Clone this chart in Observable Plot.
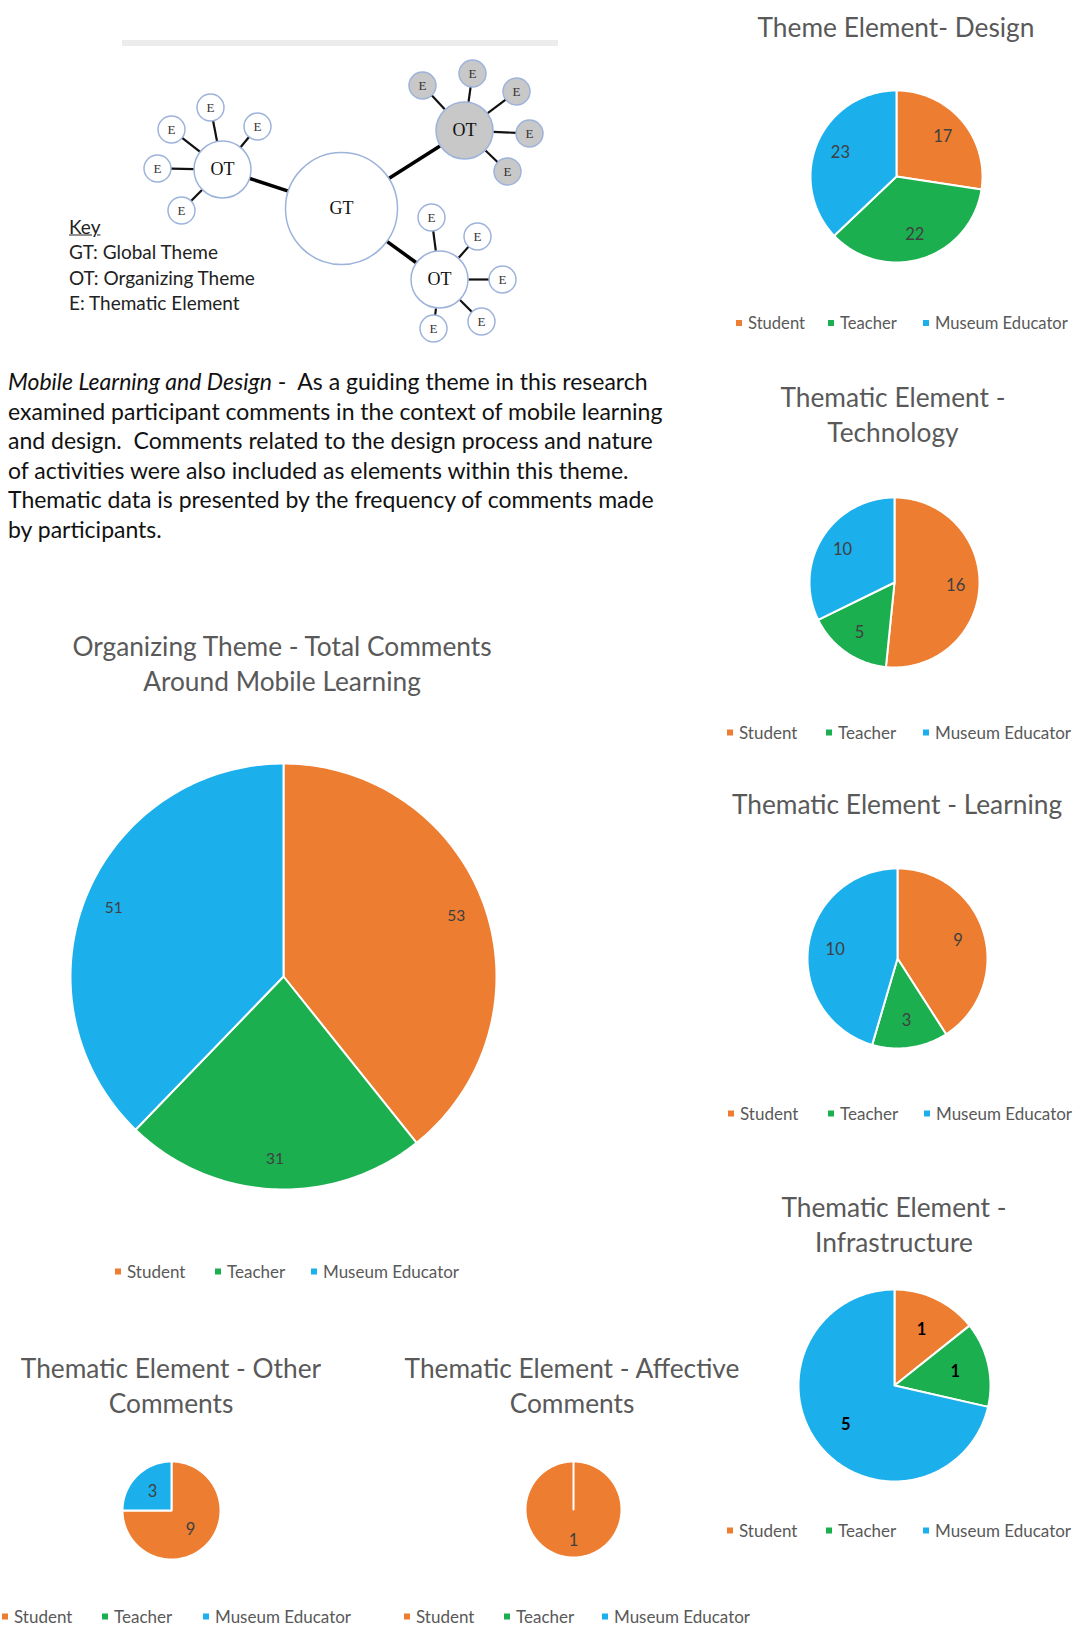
<!DOCTYPE html>
<html>
<head>
<meta charset="utf-8">
<script src="https://cdn.jsdelivr.net/npm/d3@7"></script>
<script src="https://cdn.jsdelivr.net/npm/@observablehq/plot@0.6"></script>
<style>
  html, body { margin: 0; padding: 0; background: #fff; }
  #page { position: relative; width: 1075px; height: 1625px; overflow: hidden; background: #fff; font-family: Lato, "Open Sans", sans-serif; }
  .title { position: absolute; transform: translate(-50%, -50%); text-align: center; white-space: nowrap; color: #595959; font-size: 26.3px; line-height: 35px; }
  .legend { position: absolute; display: flex; align-items: center; white-space: nowrap; color: #595959; transform: translateY(-50%); }
  .legend .item { display: flex; align-items: center; }
  .legend .sw { width: 6px; height: 6px; margin-right: 6px; }
  .para { position: absolute; left: 8px; top: 367px; font-size: 23px; line-height: 29.6px; color: #111; white-space: nowrap; }
  .key { position: absolute; left: 69px; font-size: 19px; color: #222; transform: translateY(-50%); white-space: nowrap; }
</style>
</head>
<body>
<div id="page"></div>
<script>
// ---------- data ----------
const categories = ["Student", "Teacher", "Museum Educator"];
const designValues = [17, 22, 23];
const technologyValues = [16, 5, 10];
const learningValues = [9, 3, 10];
const totalValues = [53, 31, 51];
const infrastructureValues = [1, 1, 5];
const otherValues = [9, 0, 3];
const affectiveValues = [1, 0, 0];

const designTitle = ["Theme Element- Design"];
const technologyTitle = ["Thematic Element -", "Technology"];
const learningTitle = ["Thematic Element - Learning"];
const totalTitle = ["Organizing Theme - Total Comments", "Around Mobile Learning"];
const infrastructureTitle = ["Thematic Element -", "Infrastructure"];
const otherTitle = ["Thematic Element - Other", "Comments"];
const affectiveTitle = ["Thematic Element - Affective", "Comments"];

const keyLines = ["GT: Global Theme", "OT: Organizing Theme", "E: Thematic Element"];
const paragraphLines = [
  "examined participant comments in the context of mobile learning",
  "and design.  Comments related to the design process and nature",
  "of activities were also included as elements within this theme.",
  "Thematic data is presented by the frequency of comments made",
  "by participants."
];

// ---------- styles ----------
const palette = ["#ED7D31", "#1BAF50", "#1BAFEC"];
const page = document.getElementById("page");

function pieChart(values, {r, labelR, fontSize = 16.5, fontWeight = "normal", labelColor = "#404040"}) {
  const total = d3.sum(values);
  const rows = [], labels = [];
  let acc = 0;
  categories.forEach((c, i) => {
    const v = values[i];
    if (!v) return;
    const a0 = acc / total * 2 * Math.PI;
    acc += v;
    const a1 = acc / total * 2 * Math.PI;
    rows.push({cat: c, x: 0, y: 0});
    const n = Math.max(2, Math.ceil((a1 - a0) / (Math.PI / 180)));
    for (let k = 0; k <= n; k++) {
      const t = a0 + (a1 - a0) * k / n;
      rows.push({cat: c, x: Math.sin(t), y: Math.cos(t)});
    }
    const m = (a0 + a1) / 2;
    labels.push({cat: c, v, x: labelR * Math.sin(m), y: labelR * Math.cos(m)});
  });
  const pad = 3;
  return Plot.plot({
    width: 2 * r + 2 * pad,
    height: 2 * r + 2 * pad,
    margin: pad,
    style: {background: "transparent", overflow: "visible", fontFamily: "Lato, sans-serif"},
    x: {domain: [-1, 1], axis: null},
    y: {domain: [-1, 1], axis: null},
    color: {domain: categories, range: palette},
    marks: [
      Plot.line(rows, {x: "x", y: "y", z: "cat", fill: "cat", stroke: "white", strokeWidth: 2, curve: "linear-closed"}),
      Plot.text(labels, {x: "x", y: "y", text: d => String(d.v), fill: labelColor, fontSize, fontWeight})
    ]
  });
}

function place(el, left, top) {
  el.style.position = "absolute";
  el.style.left = left + "px";
  el.style.top = top + "px";
  page.appendChild(el);
}

function addPie(values, cx, cy, opts) {
  const svg = pieChart(values, opts);
  place(svg, cx - opts.r - 3, cy - opts.r - 3);
}

function addTitle(lines, cx, cy) {
  const d = document.createElement("div");
  d.className = "title";
  d.innerHTML = lines.join("<br>");
  d.style.left = cx + "px";
  d.style.top = cy + "px";
  page.appendChild(d);
}

function addLegend(x, y, step, fontSize) {
  const d = document.createElement("div");
  d.className = "legend";
  d.style.left = x + "px";
  d.style.top = y + "px";
  d.style.fontSize = fontSize + "px";
  categories.forEach((c, i) => {
    const it = document.createElement("div");
    it.className = "item";
    if (i < categories.length - 1) it.style.width = step[i] + "px";
    const sw = document.createElement("div");
    sw.className = "sw";
    sw.style.background = palette[i];
    const tx = document.createElement("span");
    tx.textContent = c;
    it.appendChild(sw); it.appendChild(tx);
    d.appendChild(it);
  });
  page.appendChild(d);
}

// ---------- top gray bar ----------
const bar = document.createElement("div");
bar.style.background = "#ececec";
bar.style.width = "436px"; bar.style.height = "6px";
place(bar, 122, 40);

// ---------- diagram ----------
const GT = {id: "GT", x: 341, y: 208, r: 56};
const OTs = [
  {id: "L", x: 222, y: 169, r: 28, gray: false, E: [[210, 107], [171, 129], [257, 126], [157, 168], [181, 210]]},
  {id: "TR", x: 464, y: 130, r: 29, gray: true, E: [[422, 85], [472, 73], [516, 91], [529, 133], [507, 171]]},
  {id: "BR", x: 439, y: 279, r: 29, gray: false, E: [[431, 217], [477, 236], [502, 279], [481, 321], [433, 328]]}
];
const Er = 13.5;
function seg(a, ra, b, rb) {
  const dx = b.x - a.x, dy = b.y - a.y, L = Math.hypot(dx, dy);
  return {x1: a.x + dx / L * ra, y1: a.y + dy / L * ra, x2: b.x - dx / L * rb, y2: b.y - dy / L * rb};
}
const thickLinks = OTs.map(o => seg(GT, GT.r, o, o.r));
const thinLinks = OTs.flatMap(o => o.E.map(([x, y]) => seg(o, o.r, {x, y}, Er)));
const eNodes = OTs.flatMap(o => o.E.map(([x, y]) => ({x, y, gray: o.gray})));

const DW = 560, DH = 345;
const diagram = Plot.plot({
  width: DW, height: DH, margin: 0,
  style: {background: "transparent", overflow: "visible"},
  x: {domain: [0, DW], range: [0, DW], axis: null},
  y: {domain: [0, DH], range: [0, DH], axis: null},
  marks: [
    Plot.link(thickLinks, {x1: "x1", y1: "y1", x2: "x2", y2: "y2", stroke: "#000", strokeWidth: 3.5}),
    Plot.link(thinLinks, {x1: "x1", y1: "y1", x2: "x2", y2: "y2", stroke: "#111", strokeWidth: 2.2}),
    Plot.dot([GT], {x: "x", y: "y", r: GT.r, fill: "#fff", stroke: "#9DB3DB", strokeWidth: 1.5}),
    Plot.dot(OTs, {x: "x", y: "y", r: 28.5, fill: d => d.gray ? "#C8C8C8" : "#fff", stroke: "#9DB3DB", strokeWidth: 1.5}),
    Plot.dot(eNodes, {x: "x", y: "y", r: Er, fill: d => d.gray ? "#C8C8C8" : "#fff", stroke: "#9DB3DB", strokeWidth: 1.5}),
    Plot.text([GT], {x: "x", y: "y", text: d => d.id, fontFamily: "Liberation Serif, serif", fontSize: 18, fill: "#111"}),
    Plot.text(OTs, {x: "x", y: "y", text: d => "OT", fontFamily: "Liberation Serif, serif", fontSize: 18, fill: "#111", fontWeight: d => d.gray ? "bold" : "normal"}),
    Plot.text(eNodes, {x: "x", y: "y", text: d => "E", fontFamily: "Liberation Serif, serif", fontSize: 13, fill: "#333"})
  ]
});
place(diagram, 0, 0);

// key
const keyY = [226, 251, 277, 302];
["Key", ...keyLines].forEach((t, i) => {
  const d = document.createElement("div");
  d.className = "key";
  d.style.top = keyY[i] + "px";
  d.textContent = t;
  if (i === 0) d.style.textDecoration = "underline";
  page.appendChild(d);
});

// paragraph
const para = document.createElement("div");
para.className = "para";
para.innerHTML = "<i>Mobile Learning and Design</i> -&nbsp; As a guiding theme in this research<br>" +
  paragraphLines.map(s => s.replace(/  /g, "&nbsp; ")).join("<br>");
page.appendChild(para);

// ---------- pies ----------
addTitle(designTitle, 896, 27);
addPie(designValues, 896, 176, {r: 86, labelR: 0.71});
addLegend(736, 323, [92, 95], 16.6);

addTitle(technologyTitle, 893, 415);
addPie(technologyValues, 894, 582, {r: 85, labelR: 0.72});
addLegend(727, 732, [99, 97], 17);

addTitle(learningTitle, 897, 804);
addPie(learningValues, 897, 958, {r: 90, labelR: 0.7});
addLegend(728, 1113, [100, 96], 17);

addTitle(totalTitle, 282, 664);
addPie(totalValues, 283, 976, {r: 213, labelR: 0.86, fontSize: 15.5});
addLegend(115, 1271, [100, 96], 17);

addTitle(infrastructureTitle, 894, 1225);
addPie(infrastructureValues, 894, 1385, {r: 96, labelR: 0.65, fontWeight: "bold", labelColor: "#000"});
addLegend(727, 1530, [99, 97], 17);

addTitle(otherTitle, 171, 1386);
addPie(otherValues, 171, 1510, {r: 49, labelR: 0.55});
addLegend(2, 1616, [100, 101], 17);

addTitle(affectiveTitle, 572, 1386);
addPie(affectiveValues, 573, 1509, {r: 48, labelR: 0.65});
addLegend(404, 1616, [100, 98], 17);
</script>
</body>
</html>
